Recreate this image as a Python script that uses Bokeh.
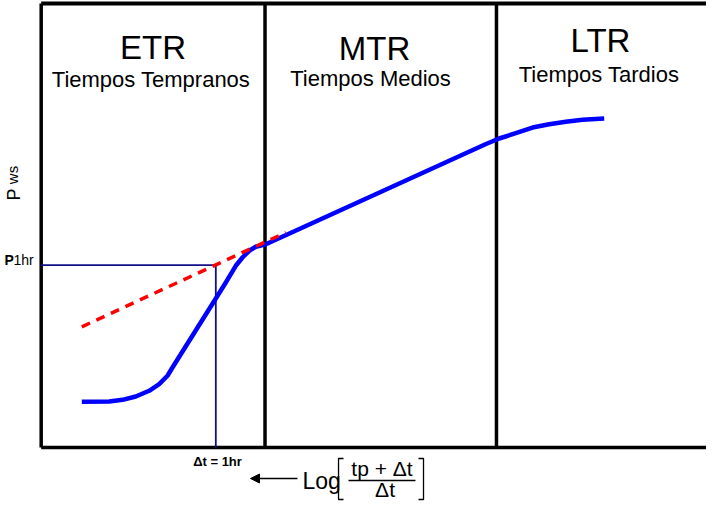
import math
from bokeh.plotting import figure
from bokeh.models import Range1d, Arrow, NormalHead
from bokeh.core.properties import value
from bokeh.embed import file_html
from bokeh.resources import INLINE

FONT = "Liberation Sans"

# ---- schematic data (x: Log[(tp+dt)/dt] units, y: Pws units) ----
curve_x = [0.627, 1.033, 1.230, 1.427, 1.625, 1.773, 1.896, 1.970, 2.612, 2.760,
           2.908, 3.007, 3.107, 3.204, 3.353, 6.607, 6.810, 7.056, 7.304, 7.551,
           7.797, 8.044, 8.366]
curve_y = [1.049, 1.056, 1.094, 1.169, 1.297, 1.445, 1.634, 1.820, 3.371, 3.730,
           4.106, 4.292, 4.443, 4.533, 4.591, 6.838, 6.966, 7.085, 7.213, 7.288,
           7.342, 7.387, 7.416]

# extrapolated semilog straight line (red dashed)
mtr_x = [0.627, 3.649]
mtr_y = [2.735, 4.854]

# P1hr reading
p1hr_x = 2.612
p1hr_y = 4.12

# region boundaries and frame
region_bounds = [3.341, 6.770]
frame_left = 0.025
frame_bottom = 0.02
frame_top = 10.0
frame_right = 9.9

region_names = ["ETR", "MTR", "LTR"]
region_subtitles = ["Tiempos Tempranos", "Tiempos Medios", "Tiempos Tardios"]
name_x = [1.681, 4.963, 8.311]
name_y = [8.742, 8.719, 8.899]
sub_x = [1.652, 4.904, 8.289]
sub_y = [8.112, 8.135, 8.225]

p = figure(width=706, height=503,
           x_range=Range1d(-0.5778, 9.8815), y_range=Range1d(-1.236, 10.0674),
           output_backend="svg", toolbar_location=None,
           x_axis_type=None, y_axis_type=None, min_border=0)
p.grid.visible = False
p.outline_line_color = None
p.background_fill_color = "white"

BL = 0.36  # baseline compensation (em)


def txt(x, y, text, fs, align="left", bold=False, angle=0.0):
    kw = dict(text_font=value(FONT), text_font_size=f"{fs}px", text_align=align,
              text_baseline="alphabetic", text_color="black",
              text_font_style="bold" if bold else "normal")
    if angle:
        kw.update(angle=angle, x_offset=-BL * fs * 0.85)
    else:
        kw.update(y_offset=-BL * fs)
    p.text(x=x, y=y, text=text, **kw)


# frame
p.line([frame_left, frame_left], [frame_bottom, frame_top], line_color="black", line_width=3.5)
p.line([frame_left, frame_right], [frame_bottom, frame_bottom], line_color="black", line_width=3.5)
p.line([frame_left, frame_right], [frame_top, frame_top], line_color="black", line_width=4)

# region boundaries
for xb in region_bounds:
    p.line([xb, xb], [frame_bottom, frame_top], line_color="black", line_width=3.5)

# P1hr guide lines
p.line([frame_left, p1hr_x], [p1hr_y, p1hr_y], line_color="#10108a", line_width=1.8)
p.line([p1hr_x, p1hr_x], [frame_bottom, p1hr_y], line_color="#10108a", line_width=1.8)

# curve and extrapolated line
p.line(curve_x, curve_y, line_color="#0000ff", line_width=4.5, line_join="round")
p.line(mtr_x, mtr_y, line_color="#ff0000", line_width=3.5, line_dash="9 7")

# region texts
txt(name_x, name_y, region_names, 33, align="center")
txt(sub_x, sub_y, region_subtitles, 22, align="center")

# Pws label (rotated)
txt([-0.296], [5.573], ["P"], 18, angle=math.pi / 2)
txt([-0.330], [5.940], ["ws"], 15, angle=math.pi / 2)

# P1hr label
txt([-0.5185], [4.112], ["P"], 14, bold=True)
txt([-0.385], [4.112], ["1hr"], 14)

# Δt = 1hr
txt([2.637], [-0.4045], ["\u0394t = 1hr"], 13, align="center", bold=True)

# x-axis label: <-- Log[(tp + Δt)/Δt]
p.add_layout(Arrow(end=NormalHead(size=9, fill_color="black", line_color="black"),
                   x_start=3.822, y_start=-0.674, x_end=3.126, y_end=-0.674,
                   line_width=1.5, line_color="black"))
txt([3.896], [-0.921], ["Log"], 23)
txt([5.074], [-0.629], ["tp + \u0394t"], 21, align="center")
txt([5.119], [-1.101], ["\u0394t"], 21, align="center")
p.line([4.578, 5.570], [-0.719, -0.719], line_color="black", line_width=1.3)
# brackets
p.line([4.504, 4.430, 4.430, 4.504], [-0.2247, -0.2247, -1.146, -1.146],
       line_color="black", line_width=1.3)
p.line([5.615, 5.689, 5.689, 5.615], [-0.2247, -0.2247, -1.146, -1.146],
       line_color="black", line_width=1.3)

open("out.html", "w").write(file_html(p, INLINE))
